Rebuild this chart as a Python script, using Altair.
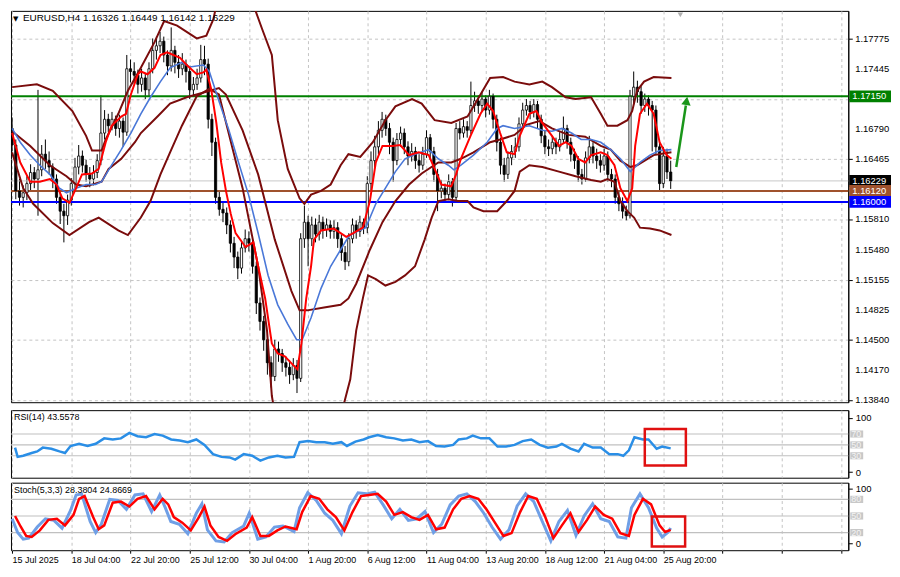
import altair as alt
import pandas as pd

W = 843
H_MAIN = 394
H_SUB = 68
X_DOMAIN = [-0.3, 226]

# ---------------- price bars (H4, index 0 = 15 Jul 2025 12:00) ----------------
bar_open = [1.1680, 1.1662, 1.1612, 1.1605, 1.1610, 1.1620, 1.1632, 1.1625, 1.1635, 1.1652,
            1.1645, 1.1638, 1.1625, 1.1605, 1.1590, 1.1585, 1.1602, 1.1620, 1.1638, 1.1650,
            1.1640, 1.1630, 1.1625, 1.1632, 1.1645, 1.1675, 1.1690, 1.1683, 1.1690, 1.1680,
            1.1688, 1.1676, 1.1745, 1.1742, 1.1738, 1.1728, 1.1735, 1.1722, 1.1745, 1.1765,
            1.1770, 1.1775, 1.1760, 1.1748, 1.1765, 1.1752, 1.1745, 1.1750, 1.1742, 1.1722,
            1.1728, 1.1735, 1.1755, 1.1750, 1.1690, 1.1665, 1.1605, 1.1592, 1.1588, 1.1575,
            1.1555, 1.1540, 1.1528, 1.1550, 1.1560, 1.1555, 1.1530, 1.1490, 1.1470, 1.1450,
            1.1425, 1.1410, 1.1440, 1.1435, 1.1425, 1.1420, 1.1412, 1.1422, 1.1408, 1.1560,
            1.1578, 1.1560, 1.1575, 1.1565, 1.1578, 1.1570, 1.1575, 1.1568, 1.1572, 1.1560,
            1.1545, 1.1535, 1.1560, 1.1575, 1.1568, 1.1578, 1.1572, 1.1620, 1.1645, 1.1660,
            1.1678, 1.1690, 1.1680, 1.1665, 1.1645, 1.1668, 1.1675, 1.1660, 1.1650, 1.1655,
            1.1645, 1.1640, 1.1652, 1.1670, 1.1655, 1.1630, 1.1612, 1.1615, 1.1608, 1.1622,
            1.1605, 1.1680, 1.1675, 1.1682, 1.1678, 1.1705, 1.1710, 1.1705, 1.1712, 1.1700,
            1.1715, 1.1690, 1.1665, 1.1640, 1.1630, 1.1648, 1.1655, 1.1660, 1.1685, 1.1700,
            1.1705, 1.1698, 1.1706, 1.1690, 1.1672, 1.1660, 1.1658, 1.1665, 1.1660, 1.1668,
            1.1680, 1.1665, 1.1652, 1.1645, 1.1630, 1.1625, 1.1648, 1.1660, 1.1650, 1.1645,
            1.1640, 1.1650, 1.1630, 1.1625, 1.1605, 1.1598, 1.1590, 1.1585, 1.1715, 1.1725,
            1.1720, 1.1705, 1.1712, 1.1705, 1.1700, 1.1660, 1.1620, 1.1650, 1.16326]
bar_close = [1.1662, 1.1612, 1.1605, 1.1610, 1.1620, 1.1632, 1.1625, 1.1635, 1.1652, 1.1645,
             1.1638, 1.1625, 1.1605, 1.1590, 1.1585, 1.1602, 1.1620, 1.1638, 1.1650, 1.1640,
             1.1630, 1.1625, 1.1632, 1.1645, 1.1675, 1.1690, 1.1683, 1.1690, 1.1680, 1.1688,
             1.1676, 1.1745, 1.1742, 1.1738, 1.1728, 1.1735, 1.1722, 1.1745, 1.1765, 1.1770,
             1.1775, 1.1760, 1.1748, 1.1765, 1.1752, 1.1745, 1.1750, 1.1742, 1.1722, 1.1728,
             1.1735, 1.1755, 1.1750, 1.1690, 1.1665, 1.1605, 1.1592, 1.1588, 1.1575, 1.1555,
             1.1540, 1.1528, 1.1550, 1.1560, 1.1555, 1.1530, 1.1490, 1.1470, 1.1450, 1.1425,
             1.1410, 1.1440, 1.1435, 1.1425, 1.1420, 1.1412, 1.1422, 1.1408, 1.1560, 1.1578,
             1.1560, 1.1575, 1.1565, 1.1578, 1.1570, 1.1575, 1.1568, 1.1572, 1.1560, 1.1545,
             1.1535, 1.1560, 1.1575, 1.1568, 1.1578, 1.1572, 1.1620, 1.1645, 1.1660, 1.1678,
             1.1690, 1.1680, 1.1665, 1.1645, 1.1668, 1.1675, 1.1660, 1.1650, 1.1655, 1.1645,
             1.1640, 1.1652, 1.1670, 1.1655, 1.1630, 1.1612, 1.1615, 1.1608, 1.1622, 1.1605,
             1.1680, 1.1675, 1.1682, 1.1678, 1.1705, 1.1710, 1.1705, 1.1712, 1.1700, 1.1715,
             1.1690, 1.1665, 1.1640, 1.1630, 1.1648, 1.1655, 1.1660, 1.1685, 1.1700, 1.1705,
             1.1698, 1.1706, 1.1690, 1.1672, 1.1660, 1.1658, 1.1665, 1.1660, 1.1668, 1.1680,
             1.1665, 1.1652, 1.1645, 1.1630, 1.1625, 1.1648, 1.1660, 1.1650, 1.1645, 1.1640,
             1.1650, 1.1630, 1.1625, 1.1605, 1.1598, 1.1590, 1.1585, 1.1715, 1.1725, 1.1720,
             1.1705, 1.1712, 1.1705, 1.1700, 1.1660, 1.1620, 1.1650, 1.16326, 1.16229]
bar_high = [1.1692, 1.1668, 1.1625, 1.1618, 1.1628, 1.1641, 1.1638, 1.1722, 1.1662, 1.1668,
            1.1655, 1.1642, 1.1630, 1.1612, 1.1598, 1.1608, 1.1626, 1.1648, 1.1662, 1.1656,
            1.1646, 1.1638, 1.1640, 1.1652, 1.1716, 1.1700, 1.1696, 1.1698, 1.1694, 1.1695,
            1.1692, 1.1760, 1.1755, 1.1752, 1.1744, 1.1745, 1.1740, 1.1752, 1.1778, 1.1780,
            1.1785, 1.1780, 1.1765, 1.1790, 1.1770, 1.1760, 1.1762, 1.1755, 1.1748, 1.1736,
            1.1745, 1.1771, 1.1770, 1.1756, 1.1696, 1.1670, 1.1612, 1.1600, 1.1594, 1.1580,
            1.1562, 1.1546, 1.1558, 1.1570, 1.1568, 1.1560, 1.1535, 1.1496, 1.1476, 1.1456,
            1.1432, 1.1450, 1.1448, 1.1440, 1.1432, 1.1428, 1.1430, 1.1428, 1.1566, 1.1596,
            1.1585, 1.1584, 1.1582, 1.1586, 1.1584, 1.1582, 1.1580, 1.1580, 1.1578, 1.1565,
            1.1552, 1.1566, 1.1582, 1.1580, 1.1585, 1.1582, 1.1628, 1.1655, 1.1672, 1.1688,
            1.1698, 1.1695, 1.1686, 1.1670, 1.1675, 1.1682, 1.1680, 1.1666, 1.1664, 1.1660,
            1.1652, 1.1660, 1.1678, 1.1674, 1.1660, 1.1636, 1.1624, 1.1620, 1.1630, 1.1626,
            1.1686, 1.1688, 1.1690, 1.1688, 1.1731, 1.1720, 1.1716, 1.1720, 1.1716, 1.1722,
            1.1718, 1.1695, 1.1670, 1.1648, 1.1655, 1.1662, 1.1670, 1.1692, 1.1708, 1.1712,
            1.1710, 1.1712, 1.1710, 1.1695, 1.1678, 1.1668, 1.1672, 1.1670, 1.1676, 1.1693,
            1.1684, 1.1670, 1.1658, 1.1650, 1.1636, 1.1655, 1.1672, 1.1665, 1.1658, 1.1652,
            1.1658, 1.1655, 1.1636, 1.1630, 1.1612, 1.1605, 1.1596, 1.1722, 1.1742, 1.1732,
            1.1726, 1.1718, 1.1716, 1.1710, 1.1705, 1.1665, 1.1660, 1.1658, 1.16449]
bar_low = [1.1655, 1.1603, 1.1596, 1.1594, 1.1602, 1.1612, 1.1615, 1.1585, 1.1628, 1.1636,
           1.1630, 1.1615, 1.1598, 1.1576, 1.1556, 1.1575, 1.1596, 1.1615, 1.1630, 1.1632,
           1.1622, 1.1616, 1.1618, 1.1626, 1.1640, 1.1668, 1.1676, 1.1678, 1.1672, 1.1670,
           1.1660, 1.1672, 1.1730, 1.1728, 1.1718, 1.1720, 1.1712, 1.1715, 1.1740, 1.1755,
           1.1762, 1.1752, 1.1738, 1.1742, 1.1740, 1.1735, 1.1738, 1.1730, 1.1712, 1.1716,
           1.1722, 1.1730, 1.1738, 1.1680, 1.1650, 1.1598, 1.1585, 1.1578, 1.1565, 1.1545,
           1.1528, 1.1516, 1.1522, 1.1545, 1.1546, 1.1522, 1.1478, 1.1460, 1.1438, 1.1412,
           1.1398, 1.1405, 1.1426, 1.1415, 1.1410, 1.1402, 1.1406, 1.1392, 1.1404, 1.1550,
           1.1530, 1.1552, 1.1556, 1.1558, 1.1560, 1.1562, 1.1560, 1.1560, 1.1550, 1.1536,
           1.1526, 1.1530, 1.1555, 1.1560, 1.1562, 1.1565, 1.1566, 1.1612, 1.1638, 1.1652,
           1.1670, 1.1672, 1.1652, 1.1622, 1.1640, 1.1660, 1.1652, 1.1640, 1.1644, 1.1636,
           1.1632, 1.1635, 1.1648, 1.1646, 1.1622, 1.1590, 1.1604, 1.1600, 1.1602, 1.1595,
           1.1600, 1.1668, 1.1670, 1.1670, 1.1674, 1.1698, 1.1696, 1.1698, 1.1692, 1.1695,
           1.1680, 1.1655, 1.1630, 1.1622, 1.1625, 1.1640, 1.1648, 1.1655, 1.1680, 1.1694,
           1.1690, 1.1692, 1.1680, 1.1664, 1.1652, 1.1650, 1.1652, 1.1652, 1.1655, 1.1664,
           1.1658, 1.1644, 1.1636, 1.1622, 1.1619, 1.1622, 1.1642, 1.1642, 1.1636, 1.1632,
           1.1634, 1.1622, 1.1616, 1.1598, 1.1590, 1.1582, 1.1580, 1.1582, 1.1706, 1.1708,
           1.1696, 1.1698, 1.1694, 1.1655, 1.1652, 1.1612, 1.1615, 1.1625, 1.16142]

# ---------------- indicator lines on the price panel ----------------
red_idx = [0, 2.2, 4.9, 7.5, 10.2, 12.0, 13.6, 15.5, 17.3, 18.9, 21.6, 23.4, 25.3, 26.9, 29.5, 30.8,
           32.1, 34.0, 34.8, 36.6, 38.5, 40.1, 41.9, 45.4, 47.2, 49.9, 51.7, 52.5, 53.8, 55.2, 56.5,
           57.8, 59.1, 60.4, 63.1, 65.2, 66.5, 68.4, 70.2, 71.8, 73.7, 76.3, 77.1, 78.2, 79.5, 80.8,
           81.6, 83.5, 86.9, 88.8, 90.3, 92.2, 94.8, 96.7, 98.3, 100.1, 102.8, 104.9, 107.3, 109.9,
           112.6, 114.2, 116.0, 118.7, 120.0, 121.3, 123.9, 126.6, 128.4, 130.0, 131.9, 133.7, 135.8,
           137.2, 139.8, 141.7, 143.3, 145.9, 147.8, 149.6, 151.2, 153.0, 154.9, 156.5, 159.1, 160.9,
           162.8, 164.4, 166.3, 167.6, 168.4, 169.7, 171.6, 173.4, 175.0, 176.9, 178.2]
red_val = [1.1675, 1.1643, 1.1622, 1.1622, 1.1625, 1.1619, 1.1604, 1.1599, 1.1615, 1.1630, 1.1631,
           1.1636, 1.1665, 1.1683, 1.1693, 1.1696, 1.1717, 1.1739, 1.1742, 1.1739, 1.1746, 1.1760,
           1.1763, 1.1757, 1.1749, 1.1739, 1.1741, 1.1744, 1.1723, 1.1686, 1.1643, 1.1612, 1.1587,
           1.1566, 1.1551, 1.1556, 1.1530, 1.1495, 1.1446, 1.1435, 1.1432, 1.1421, 1.1418, 1.1446,
           1.1495, 1.1530, 1.1559, 1.1569, 1.1571, 1.1566, 1.1562, 1.1566, 1.1572, 1.1601, 1.1643,
           1.1661, 1.1661, 1.1662, 1.1651, 1.1654, 1.1651, 1.1636, 1.1619, 1.1617, 1.1630, 1.1647,
           1.1672, 1.1696, 1.1707, 1.1699, 1.1675, 1.1654, 1.1652, 1.1672, 1.1696, 1.1699, 1.1686,
           1.1672, 1.1661, 1.1665, 1.1661, 1.1647, 1.1643, 1.1651, 1.1654, 1.1651, 1.1640, 1.1615,
           1.1601, 1.1615, 1.1661, 1.1696, 1.1707, 1.1696, 1.1665, 1.1651, 1.1647]

blue_idx = [0, 2.2, 4.9, 7.5, 10.2, 12.8, 14.7, 17.3, 20.0, 22.6, 24.2, 26.9, 29.5, 32.1, 34.8, 37.4,
            40.1, 42.7, 45.9, 48.0, 51.7, 53.3, 55.9, 58.6, 61.2, 63.9, 66.5, 69.2, 71.8, 74.5, 76.9,
            78.4, 80.8, 83.5, 86.1, 88.8, 90.9, 92.2, 95.6, 98.3, 100.9, 103.6, 106.2, 108.9, 112.6,
            115.2, 117.9, 119.4, 121.3, 124.7, 128.4, 131.1, 132.7, 135.8, 139.8, 143.3, 145.9, 148.6,
            151.2, 153.8, 156.5, 159.1, 161.8, 164.4, 167.1, 169.7, 172.4, 175.0, 178.2]
blue_val = [1.1680, 1.1665, 1.1651, 1.1640, 1.1630, 1.1615, 1.1610, 1.1615, 1.1619, 1.1619, 1.1622,
            1.1640, 1.1657, 1.1675, 1.1696, 1.1714, 1.1731, 1.1746, 1.1752, 1.1747, 1.1749, 1.1742,
            1.1710, 1.1678, 1.1643, 1.1608, 1.1566, 1.1520, 1.1488, 1.1467, 1.1450, 1.1450, 1.1474,
            1.1506, 1.1530, 1.1548, 1.1562, 1.1566, 1.1572, 1.1598, 1.1615, 1.1633, 1.1647, 1.1652,
            1.1657, 1.1647, 1.1640, 1.1635, 1.1640, 1.1651, 1.1665, 1.1680, 1.1683, 1.1680, 1.1683,
            1.1678, 1.1677, 1.1680, 1.1675, 1.1668, 1.1668, 1.1665, 1.1657, 1.1647, 1.1633, 1.1643,
            1.1651, 1.1656, 1.1657]

upper_idx = [0, 6.7, 11.0, 16.3, 20.0, 21.6, 24.2, 25.3, 28.7, 31.3, 34.8, 38.5, 41.1, 44.6, 49.9,
             52.5, 54.4, 55.7, 60.4, 64.9, 67.6, 70.2, 71.0, 71.8, 74.5, 77.7, 79.0, 80.8, 83.5, 86.1,
             88.8, 90.9, 94.1, 97.5, 100.9, 103.6, 108.1, 110.7, 114.2, 118.7, 123.1, 126.6, 129.2,
             132.7, 135.8, 139.8, 143.3, 145.9, 149.6, 152.3, 156.5, 159.1, 160.9, 163.6, 166.3,
             167.6, 168.9, 170.8, 173.4, 178.2]
upper_val = [1.1725, 1.1728, 1.1721, 1.1699, 1.1672, 1.1656, 1.1656, 1.1668, 1.1696, 1.1721, 1.1746,
             1.1774, 1.1797, 1.1792, 1.1778, 1.1781, 1.1799, 1.1823, 1.1855, 1.1818, 1.1788, 1.1760,
             1.1725, 1.1689, 1.1636, 1.1604, 1.1598, 1.1608, 1.1612, 1.1619, 1.1640, 1.1652, 1.1649,
             1.1665, 1.1689, 1.1704, 1.1712, 1.1707, 1.1689, 1.1686, 1.1693, 1.1717, 1.1735, 1.1736,
             1.1731, 1.1728, 1.1731, 1.1725, 1.1714, 1.1712, 1.1714, 1.1696, 1.1683, 1.1683, 1.1689,
             1.1699, 1.1721, 1.1731, 1.1736, 1.1735]

lower_idx = [0, 3.0, 5.7, 11.0, 15.5, 20.8, 23.4, 28.7, 31.3, 34.8, 37.4, 40.1, 42.7, 45.9, 49.9,
             53.3, 55.9, 62.3, 66.5, 68.9, 70.2, 72.4, 79.0, 86.9, 89.6, 91.4, 93.0, 94.8, 96.2, 98.3,
             100.9, 103.6, 106.2, 108.9, 111.5, 113.4, 115.2, 117.9, 120.5, 123.1, 124.7, 127.4,
             131.1, 133.7, 135.8, 137.2, 139.8, 143.3, 147.8, 152.3, 156.5, 159.1, 160.9, 162.8,
             164.4, 166.3, 168.1, 169.7, 172.4, 175.0, 178.2]
lower_val = [1.1654, 1.1615, 1.1598, 1.1577, 1.1564, 1.1578, 1.1583, 1.1569, 1.1564, 1.1583, 1.1601,
             1.1630, 1.1654, 1.1683, 1.1715, 1.1723, 1.1717, 1.1615, 1.1530, 1.1460, 1.1389, 1.1337,
             1.1315, 1.1326, 1.1379, 1.1407, 1.1460, 1.1495, 1.1520, 1.1516, 1.1509, 1.1513, 1.1520,
             1.1530, 1.1559, 1.1583, 1.1601, 1.1603, 1.1601, 1.1601, 1.1594, 1.1590, 1.1590, 1.1601,
             1.1612, 1.1633, 1.1640, 1.1638, 1.1633, 1.1628, 1.1624, 1.1622, 1.1625, 1.1622, 1.1601,
             1.1590, 1.1583, 1.1572, 1.1571, 1.1569, 1.1564]

slow_idx = [0, 4.9, 10.2, 14.7, 17.3, 20.0, 24.2, 26.1, 29.5, 33.2, 34.8, 39.3, 42.7, 47.2, 52.5,
            55.9, 57.8, 62.3, 66.5, 71.0, 75.5, 77.7, 79.8, 84.3, 88.8, 90.9, 93.0, 96.7, 100.1,
            103.6, 107.3, 110.7, 115.2, 118.7, 121.3, 124.7, 129.2, 131.9, 135.8, 139.0, 142.5,
            145.9, 150.4, 154.9, 159.1, 161.8, 164.4, 167.1, 168.9, 173.4, 178.2]
slow_val = [1.1677, 1.1661, 1.1640, 1.1628, 1.1619, 1.1617, 1.1622, 1.1636, 1.1647, 1.1665, 1.1675,
            1.1693, 1.1707, 1.1714, 1.1720, 1.1724, 1.1717, 1.1678, 1.1630, 1.1559, 1.1503, 1.1482,
            1.1482, 1.1485, 1.1488, 1.1495, 1.1511, 1.1548, 1.1578, 1.1601, 1.1619, 1.1631, 1.1643,
            1.1643, 1.1647, 1.1654, 1.1665, 1.1668, 1.1673, 1.1684, 1.1688, 1.1680, 1.1673, 1.1671,
            1.1661, 1.1657, 1.1645, 1.1638, 1.1640, 1.1651, 1.1654]

# ---------------- oscillators ----------------
rsi_idx = [0.8, 1.5, 3.0, 5.3, 6.8, 8.3, 10.6, 12.8, 14.3, 15.8, 18.1, 20.4, 22.6, 24.9, 27.2, 29.4,
           31.7, 33.9, 36.2, 38.5, 40.7, 43.0, 45.3, 47.5, 49.8, 52.0, 54.3, 56.6, 58.8, 60.3, 62.6,
           64.9, 67.1, 69.4, 71.7, 73.9, 76.2, 77.7, 80.0, 82.2, 84.5, 86.7, 89.0, 90.5, 92.8, 95.0,
           96.5, 98.8, 101.1, 103.3, 105.6, 107.9, 110.1, 112.4, 114.6, 116.9, 119.2, 120.7, 122.9,
           124.5, 126.7, 129.0, 131.2, 133.5, 135.8, 138.0, 140.3, 142.6, 144.8, 147.1, 148.6, 150.9,
           153.1, 154.6, 156.9, 159.1, 161.4, 163.7, 165.2, 166.7, 168.2, 170.5, 172.0, 174.2, 175.7,
           178.0]
rsi_val = [45, 28, 30, 35, 38, 45, 43, 38, 35, 48, 52, 48, 52, 62, 60, 62, 72, 66, 64, 70, 67, 60,
           58, 55, 60, 50, 33, 28, 27, 23, 33, 30, 21, 27, 30, 27, 28, 55, 57, 55, 55, 52, 55, 48, 56,
           60, 64, 68, 64, 62, 58, 60, 55, 57, 48, 47, 50, 60, 62, 67, 62, 62, 47, 47, 50, 57, 60, 50,
           45, 47, 52, 43, 38, 52, 45, 45, 33, 33, 30, 40, 64, 60, 60, 43, 47, 43.56]

stk_idx = [0.0, 1.5, 3.0, 4.5, 6.8, 9.0, 11.3, 13.5, 15.8, 17.3, 18.8, 21.1, 22.6, 24.1, 26.4, 28.6,
           30.9, 33.2, 35.4, 37.7, 39.9, 41.4, 42.9, 45.2, 47.5, 49.8, 51.3, 52.8, 55.1, 57.3, 59.5,
           62.6, 64.1, 66.4, 68.6, 70.9, 73.2, 76.2, 77.7, 79.9, 82.2, 84.5, 86.7, 89.0, 91.3, 93.5,
           95.8, 98.0, 100.3, 102.6, 104.8, 107.1, 109.4, 111.6, 113.9, 116.1, 118.4, 120.7, 122.9,
           125.2, 127.5, 129.7, 132.0, 134.3, 136.5, 138.8, 141.0, 143.3, 145.6, 147.8, 150.1, 152.4,
           154.6, 156.9, 159.1, 161.4, 163.7, 165.9, 167.4, 169.7, 172.0, 174.2, 175.7, 177.2, 178.0]
stk_val = [45, 20, 8, 10, 30, 45, 42, 28, 60, 88, 90, 40, 20, 35, 80, 78, 62, 88, 90, 58, 88, 65, 40,
           35, 18, 55, 72, 25, 5, 3, 20, 32, 55, 8, 12, 30, 32, 22, 65, 92, 78, 55, 42, 18, 68, 92, 90,
           93, 70, 45, 62, 42, 45, 58, 20, 35, 70, 86, 90, 76, 55, 30, 8, 25, 68, 90, 76, 40, 5, 40, 60,
           15, 50, 72, 45, 40, 12, 10, 65, 90, 65, 28, 12, 20, 28.38]

sig_idx = [0.8, 2.3, 3.8, 5.3, 7.5, 9.8, 12.1, 14.3, 16.6, 18.1, 19.6, 21.9, 23.4, 24.9, 27.2, 29.4,
           31.7, 33.9, 36.2, 38.5, 40.7, 42.2, 43.7, 46.0, 48.3, 50.5, 52.0, 53.6, 55.8, 58.1, 60.3,
           63.4, 64.9, 67.1, 69.4, 71.7, 73.9, 76.9, 78.4, 80.7, 83.0, 85.2, 87.5, 89.8, 92.0, 94.3,
           96.5, 98.8, 101.1, 103.3, 105.6, 107.9, 110.1, 112.4, 114.6, 116.9, 119.2, 121.4, 123.7,
           126.0, 128.2, 130.5, 132.8, 135.0, 137.3, 139.5, 141.8, 144.1, 146.3, 148.6, 150.9, 153.1,
           155.4, 157.6, 159.9, 162.2, 164.4, 166.7, 168.2, 170.5, 172.7, 175.0, 176.5, 178.0]
sig_val = [50, 31, 14, 12, 24, 43, 45, 33, 52, 81, 86, 48, 26, 33, 74, 76, 67, 81, 86, 62, 81, 71, 48,
           38, 24, 48, 67, 33, 12, 5, 17, 29, 48, 14, 14, 24, 31, 26, 57, 86, 81, 62, 48, 24, 57, 86, 88,
           90, 76, 52, 57, 48, 43, 52, 26, 29, 62, 81, 86, 81, 62, 38, 14, 19, 57, 86, 81, 48, 10, 33, 55,
           21, 43, 67, 52, 45, 19, 14, 52, 81, 71, 33, 21, 24.87]

# ---------------- levels & labels ----------------
price_ticks = [1.17775, 1.17445, 1.17120, 1.16790, 1.16465, 1.16135, 1.15810, 1.15480, 1.15155,
               1.14825, 1.14500, 1.14170, 1.13840]
hidden_ticks = [1.17120, 1.16135]   # covered by the level boxes in the original
level_prices = [1.17150, 1.16229, 1.16120, 1.16000]
level_colors = ["#008000", "#000000", "#a0522d", "#0000ff"]
x_label_pos = [0, 16, 32, 48, 64, 80, 96, 112, 128, 144, 160, 176]
x_label_txt = ["15 Jul 2025", "18 Jul 04:00", "22 Jul 20:00", "25 Jul 12:00", "30 Jul 04:00",
               "1 Aug 20:00", "6 Aug 12:00", "11 Aug 04:00", "13 Aug 20:00", "18 Aug 12:00",
               "21 Aug 04:00", "25 Aug 20:00"]
rsi_levels = [70, 50, 30]
stoch_levels = [80, 50, 20]

FONT = "Liberation Sans"
GRID = "#c4c4c4"
grid_vals = list(range(0, 227, 8))

label_expr = "".join(f"datum.value == {p} ? '{t}' : " for p, t in zip(x_label_pos, x_label_txt)) + "''"

xs = alt.Scale(domain=X_DOMAIN, nice=False, zero=False)
ps = alt.Scale(domain=[1.1382, 1.1808], nice=False, zero=False)


def x_axis(show_labels):
    if show_labels:
        return alt.Axis(values=grid_vals, grid=True, gridDash=[3, 3], gridColor=GRID, labelExpr=label_expr,
                        labelAlign="left", labelFont=FONT, labelFontSize=9, labelColor="black",
                        tickColor="black", tickSize=3, domain=False, title=None, labelPadding=2,
                        labelFlush=False, labelOverlap=False)
    return alt.Axis(values=grid_vals, grid=True, gridDash=[3, 3], gridColor=GRID, labels=False,
                    ticks=False, domain=False, title=None)


def X(field):
    return alt.X(field, scale=xs, title=None)


def PY(field):
    return alt.Y(field, scale=ps, title=None)


bars = pd.DataFrame({"i": list(range(len(bar_close))), "o": bar_open, "h": bar_high,
                     "l": bar_low, "c": bar_close})

# first layer carries the axes (wicks); price labels drawn as text next to the axis
wicks = alt.Chart(bars).mark_rule(color="black", strokeWidth=1, clip=True).encode(
    x=alt.X("i:Q", scale=xs, axis=x_axis(False)),
    y=alt.Y("l:Q", scale=ps, axis=alt.Axis(orient="right", values=price_ticks, labels=False,
                                          grid=True, gridDash=[3, 3], gridColor=GRID,
                                          tickColor="black", tickSize=4, domainColor="black",
                                          title=None)),
    y2="h:Q")

tick_df = pd.DataFrame({"p": [t for t in price_ticks if t not in hidden_ticks]})
tick_df["txt"] = [f"{p:.5f}" for p in tick_df["p"]]
price_labels = alt.Chart(tick_df).mark_text(align="left", baseline="middle", font=FONT, fontSize=9.5,
                                            color="black").encode(
    x=alt.value(W + 7), y=PY("p:Q"), text="txt:N")

bodies = alt.Chart(bars).transform_calculate(x0="datum.i - 0.3", x1="datum.i + 0.3").mark_rect(
    stroke="black", strokeWidth=0.8, clip=True).encode(
    x=X("x0:Q"), x2="x1:Q", y=PY("o:Q"), y2="c:Q",
    fill=alt.condition("datum.c >= datum.o", alt.value("white"), alt.value("black")))


def pline(idx, val, color, width):
    d = pd.DataFrame({"i": idx, "v": val})
    return alt.Chart(d).mark_line(color=color, strokeWidth=width, clip=True).encode(
        x=X("i:Q"), y=PY("v:Q"), order="i:Q")


maroon = "#7a0c0c"
lines = [
    pline(upper_idx, upper_val, maroon, 2),
    pline(lower_idx, lower_val, maroon, 2),
    pline(slow_idx, slow_val, maroon, 2),
    pline(blue_idx, blue_val, "#4a78d8", 1.6),
    pline(red_idx, red_val, "#ff0000", 2),
]

lev = pd.DataFrame({"p": level_prices, "col": level_colors,
                    "w": [2, 1, 2, 2], "txt": [f"{p:.5f}" for p in level_prices]})
bid_line = alt.Chart(pd.DataFrame({"p": [1.16229]})).mark_rule(color="#c8c8c8", strokeWidth=1).encode(
    y=PY("p:Q"))
hlines = alt.Chart(lev[lev["p"] != 1.16229]).mark_rule().encode(
    y=PY("p:Q"),
    color=alt.Color("col:N", scale=None, legend=None),
    strokeWidth=alt.StrokeWidth("w:Q", scale=None, legend=None))

boxes = alt.Chart(lev).transform_calculate(lo="datum.p - 0.00064", hi="datum.p + 0.00064").mark_rect().encode(
    x=alt.value(W + 1), x2=alt.value(W + 43), y=PY("lo:Q"), y2="hi:Q",
    color=alt.Color("col:N", scale=None, legend=None))
box_txt = alt.Chart(lev).mark_text(align="left", baseline="middle", color="white", font=FONT,
                                   fontSize=9.5).encode(
    x=alt.value(W + 4), y=PY("p:Q"), text="txt:N")

title = alt.Chart(pd.DataFrame({"t": ["EURUSD,H4  1.16326 1.16449 1.16142 1.16229"]})).mark_text(
    align="left", baseline="top", font=FONT, fontSize=10, color="black").encode(
    x=alt.value(12), y=alt.value(2), text="t:N")
title_tri = alt.Chart(pd.DataFrame({"t": ["▼"]})).mark_text(
    align="left", baseline="top", font="DejaVu Sans", fontSize=7, color="black").encode(
    x=alt.value(2), y=alt.value(4), text="t:N")

arrow_df = pd.DataFrame({"i": [179.5, 182.1], "v": [1.1638, 1.1705]})
arrow = alt.Chart(arrow_df).mark_line(color="#1a961a", strokeWidth=2.5).encode(
    x=X("i:Q"), y=PY("v:Q"))
arrow_head = alt.Chart(pd.DataFrame({"i": [182.3], "v": [1.1710]})).mark_point(
    shape="triangle-up", filled=True, color="#1a961a", size=90, angle=9, opacity=1).encode(
    x=X("i:Q"), y=PY("v:Q"))

shift_mark = alt.Chart(pd.DataFrame({"i": [180.6]})).mark_point(
    shape="triangle-down", filled=True, color="#b0b0b0", size=30, opacity=1).encode(
    x=X("i:Q"), y=alt.value(4))

main = alt.layer(wicks, hlines, bid_line, bodies, *lines, price_labels, boxes, box_txt, title_tri, title,
                 arrow, arrow_head, shift_mark).properties(width=W, height=H_MAIN)


# ---------------- sub panels ----------------
def sub_panel(domain, levels, series, legend_text, box_rect, show_x):
    ys = alt.Scale(domain=domain, nice=False, zero=False)

    def SY(field):
        return alt.Y(field, scale=ys, title=None)

    axis_layer = alt.Chart(pd.DataFrame({"v": [0, 100]})).mark_point(opacity=0).encode(
        x=alt.X("v:Q", scale=xs, axis=x_axis(show_x)),
        y=alt.Y("v:Q", scale=ys, axis=alt.Axis(orient="right", values=[0, 100], grid=False,
                                               labelFont=FONT, labelFontSize=9.5, labelColor="black",
                                               tickColor="black", tickSize=4, domainColor="black",
                                               title=None, labelPadding=3)))
    lv = pd.DataFrame({"v": levels, "t": [str(v) for v in levels]})
    lv_rules = alt.Chart(lv).mark_rule(color="#c0c0c0", strokeWidth=1.2).encode(y=SY("v:Q"))
    lv_box = alt.Chart(lv).transform_calculate(lo="datum.v - 6.5", hi="datum.v + 6.5").mark_rect(
        color="#c8c8c8").encode(x=alt.value(W + 2), x2=alt.value(W + 15), y=SY("lo:Q"), y2="hi:Q")
    lv_txt = alt.Chart(lv).mark_text(align="left", baseline="middle", color="#f4f4f4", font=FONT,
                                     fontSize=9).encode(x=alt.value(W + 3), y=SY("v:Q"), text="t:N")
    layers = [axis_layer, lv_rules, lv_box, lv_txt]
    for idx, val, color, width in series:
        d = pd.DataFrame({"i": idx, "v": val})
        layers.append(alt.Chart(d).mark_line(color=color, strokeWidth=width, clip=True).encode(
            x=X("i:Q"), y=SY("v:Q"), order="i:Q"))
    rb = pd.DataFrame({"x0": [box_rect[0]], "x1": [box_rect[1]], "y0": [box_rect[2]], "y1": [box_rect[3]]})
    layers.append(alt.Chart(rb).mark_rect(filled=False, stroke="#e01010", strokeWidth=2.5).encode(
        x=X("x0:Q"), x2="x1:Q", y=SY("y0:Q"), y2="y1:Q"))
    layers.append(alt.Chart(pd.DataFrame({"t": [legend_text]})).mark_text(
        align="left", baseline="top", font=FONT, fontSize=9, color="black").encode(
        x=alt.value(3), y=alt.value(3), text="t:N"))
    return alt.layer(*layers).properties(width=W, height=H_SUB)


rsi = sub_panel([-10.3, 113.8], rsi_levels, [(rsi_idx, rsi_val, "#2a8ee6", 2.5)],
                "RSI(14) 43.5578", (171.0, 182.1, 12.0, 79.0), False)
stoch = sub_panel([-11.9, 110.2], stoch_levels,
                  [(stk_idx, stk_val, "#6f9fe6", 3), (sig_idx, sig_val, "#ff0000", 2.5)],
                  "Stoch(5,3,3) 28.3804 24.8669", (172.9, 181.9, -5.0, 49.0), True)

chart = alt.vconcat(main, rsi, stoch, spacing=3).properties(
    padding={"left": 0, "top": 0, "right": 0, "bottom": 0}, background="white"
).configure_view(stroke="black", strokeWidth=1).configure_axis(labelFont=FONT, labelOverlap=False)

chart.save("out.html", embed_options={"renderer": "svg", "actions": False})
